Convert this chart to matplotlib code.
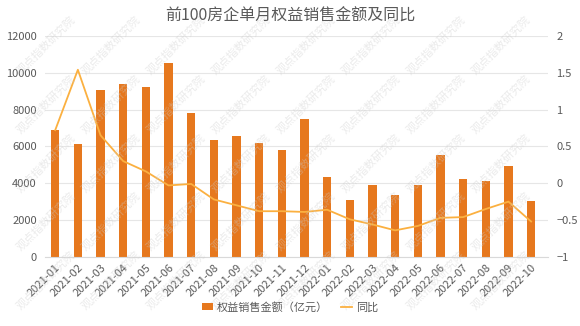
import numpy as np
import matplotlib.pyplot as plt

plt.rcParams['font.family'] = ['Noto Sans CJK SC', 'DejaVu Sans']
plt.rcParams['axes.unicode_minus'] = False

months = ['2021-01', '2021-02', '2021-03', '2021-04', '2021-05', '2021-06',
          '2021-07', '2021-08', '2021-09', '2021-10', '2021-11', '2021-12',
          '2022-01', '2022-02', '2022-03', '2022-04', '2022-05', '2022-06',
          '2022-07', '2022-08', '2022-09', '2022-10']
sales = [6880, 6140, 9050, 9400, 9210, 10550, 7800, 6370, 6570, 6210, 5790, 7500,
         4350, 3110, 3890, 3350, 3890, 5540, 4220, 4140, 4920, 3020]
yoy = [0.72, 1.54, 0.65, 0.30, 0.16, -0.03, -0.01, -0.22, -0.30, -0.38, -0.38, -0.39,
       -0.36, -0.49, -0.56, -0.64, -0.58, -0.47, -0.46, -0.35, -0.25, -0.52]
left_ticks = [0, 2000, 4000, 6000, 8000, 10000, 12000]
right_ticks = [-1, -0.5, 0, 0.5, 1, 1.5, 2]

bar_color = '#E6781E'
line_color = '#FBB040'
text_color = '#595959'

fig = plt.figure(figsize=(5.8, 3.26), dpi=100)
ax = fig.add_axes([0.078, 0.212, 0.867, 0.678])
ax2 = ax.twinx()

x = np.arange(len(months))
ax.bar(x, sales, width=0.36, color=bar_color, zorder=2, label='权益销售金额（亿元）')
ax2.plot(x, yoy, color=line_color, linewidth=1.3, zorder=3, label='同比')

ax.set_ylim(0, 12000)
ax2.set_ylim(-1, 2)
ax.set_xlim(-0.44, 21.75)
ax.set_yticks(left_ticks)
ax2.set_yticks(right_ticks)
ax2.set_yticklabels([f'{t:g}'.replace('-', '−') if t != 0 else '0' for t in right_ticks])
ax.grid(axis='y', color='#e6e6e6', linewidth=0.8, zorder=0)
ax.set_axisbelow(True)

ax.set_xticks(x)
ax.set_xticklabels(months, rotation=45, ha='right', rotation_mode='anchor')

for a in (ax, ax2):
    for s in a.spines.values():
        s.set_visible(False)
    a.tick_params(length=0, labelsize=8, colors=text_color)
ax.spines['bottom'].set_visible(True)
ax.spines['bottom'].set_color('#d9d9d9')
ax.tick_params(axis='x', pad=4)
ax.tick_params(axis='y', pad=6)
ax2.tick_params(axis='y', pad=6)

fig.suptitle('前100房企单月权益销售金额及同比', x=0.5, y=0.975, fontsize=11.5, color=text_color)

h1, l1 = ax.get_legend_handles_labels()
h2, l2 = ax2.get_legend_handles_labels()
fig.legend(h1 + h2, l1 + l2, loc='center', bbox_to_anchor=(0.5, 0.058), ncol=2,
           frameon=False, fontsize=8, labelcolor=text_color, handlelength=1.0,
           handleheight=0.7, handletextpad=0.3, columnspacing=1.2)

# faint watermark pattern, kept inside the canvas
for wx in np.arange(0.08, 0.95, 0.112):
    for wy in np.arange(0.14, 0.9, 0.18):
        fig.text(wx, wy, '观点指数研究院', rotation=45, fontsize=8, color='#cccccc',
                 alpha=0.4, ha='center', va='center', zorder=0)

fig.savefig('out.png', dpi=100)
